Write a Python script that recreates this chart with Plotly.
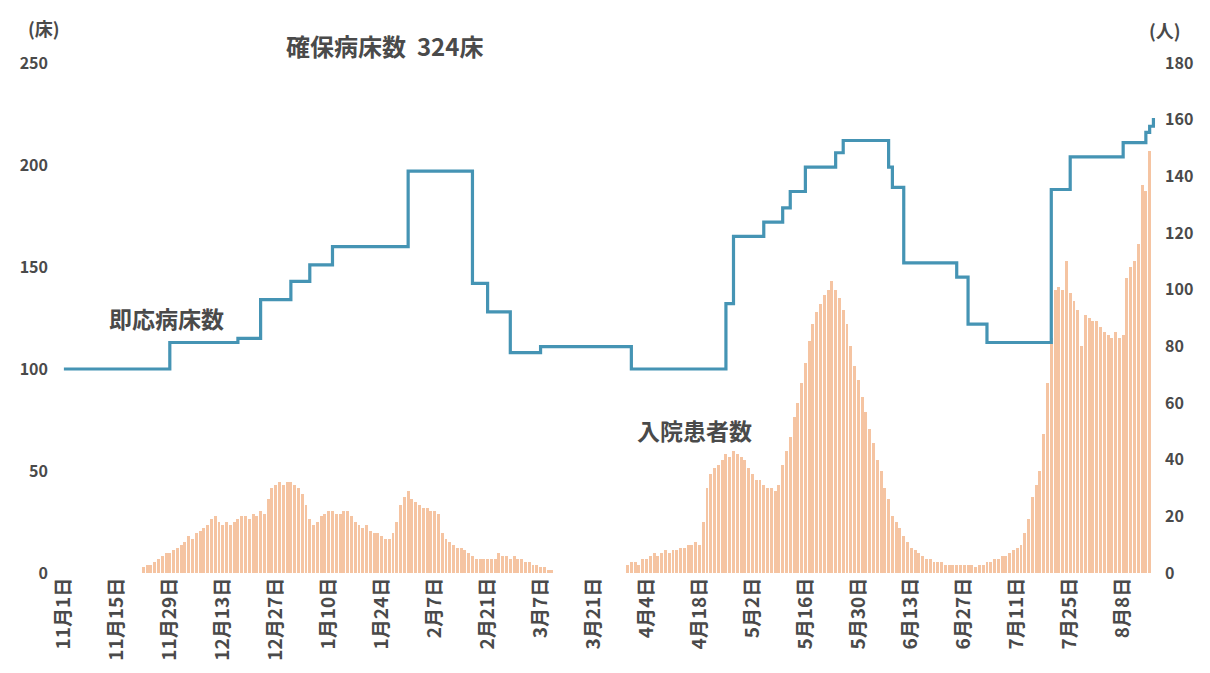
import pandas as pd
import plotly.graph_objects as go

# ---- 即応病床数 (left axis, 床): change points of the step line ----
bed_dates = ["2020-11-01", "2020-11-29", "2020-12-17", "2020-12-23", "2020-12-31",
             "2021-01-05", "2021-01-11", "2021-01-31", "2021-02-17", "2021-02-21",
             "2021-02-27", "2021-03-07", "2021-03-31", "2021-04-25", "2021-04-27",
             "2021-05-05", "2021-05-10", "2021-05-12", "2021-05-16", "2021-05-24",
             "2021-05-26", "2021-06-07", "2021-06-08", "2021-06-11", "2021-06-25",
             "2021-06-28", "2021-07-03", "2021-07-20", "2021-07-25", "2021-08-08",
             "2021-08-14", "2021-08-15", "2021-08-16"]
bed_values = [100, 113, 115, 134, 143,
              151, 160, 197, 142, 128,
              108, 111, 100, 132, 165,
              172, 179, 187, 199, 206,
              212, 199, 189, 152, 145,
              122, 113, 188, 204, 211,
              216, 219, 223]

# ---- 入院患者数 (right axis, 人): daily values from 2020-11-22 ----
patient_start = "2020-11-22"
patient_values = [
    2, 3, 3, 4, 5, 6, 7, 7, 8,
    9, 10, 11, 13, 12, 14, 15, 16, 17, 19,
    20, 18, 17, 18, 17, 18, 19, 20, 20, 19,
    21, 20, 22, 21, 26, 30, 31, 32, 31, 32,
    32, 31, 30, 28, 24, 19, 17, 18, 20, 21,
    22, 22, 21, 21, 22, 22, 20, 18, 17, 16,
    17, 15, 14, 14, 13, 12, 12, 14, 18, 24,
    27, 29, 26, 25, 24, 23, 23, 22, 22, 21,
    14, 12, 11, 10, 9, 9, 8, 7, 6, 5,
    5, 5, 5, 5, 5, 7, 6, 6, 5, 6,
    5, 5, 4, 4, 3, 3, 2, 2, 1, 1,
    0, 0, 0, 0, 0, 0, 0, 0, 0, 0,
    0, 0, 0, 0, 0, 0, 0, 0, 0,
    3, 4, 4, 3, 5, 5, 6, 7, 6, 7, 8,
    7, 8, 8, 9, 9, 10, 10, 11, 10, 18,
    30, 35, 37, 38, 40, 42, 41, 43, 42, 41,
    40, 37, 35, 33, 33, 31, 30, 30, 29, 31,
    38, 43, 48, 55, 60, 67, 74, 82, 88, 92,
    95, 98, 100, 103, 100, 97, 93, 88, 80, 73,
    68, 62, 57, 51, 46, 40, 36, 30, 26, 20,
    18, 16, 13, 11, 9, 8, 7, 6, 5, 5,
    4, 4, 4, 3, 3, 3, 3, 3, 3, 3,
    3, 2, 3, 3, 4, 4, 5, 5, 6, 6,
    7, 8, 9, 10, 14, 19, 27, 31, 36, 49,
    67, 83, 100, 101, 100, 110, 99, 96, 93, 80,
    91, 90, 89, 89, 87, 85, 84, 83, 85, 83,
    84, 104, 108, 110, 116, 137, 135, 149,
]

# ---- axis ticks ----
tick_dates = pd.date_range("2020-11-01", "2021-08-08", freq="14D")
tick_text = [f"{d.month}月{d.day}日" for d in tick_dates]
left_ticks = [0, 50, 100, 150, 200, 250]
right_ticks = [0, 20, 40, 60, 80, 100, 120, 140, 160, 180]

patient_dates = pd.date_range(patient_start, periods=len(patient_values), freq="D")

FONT = "Noto Sans CJK JP"
TXT = "#4a4a4a"

fig = go.Figure()
fig.add_trace(go.Bar(
    x=patient_dates, y=patient_values, yaxis="y",
    marker=dict(color="#f5c4a2", line=dict(width=0)),
    width=0.78 * 86400000, name="入院患者数",
))
fig.add_trace(go.Scatter(
    x=pd.to_datetime(bed_dates), y=bed_values, yaxis="y2",
    mode="lines", line=dict(color="#4594b4", width=3.2, shape="hv"),
    name="即応病床数",
))

fig.update_layout(
    width=1210, height=673,
    margin=dict(l=49, r=60, t=55, b=108),
    paper_bgcolor="white", plot_bgcolor="white",
    showlegend=False,
    font=dict(family=FONT, color=TXT),
    xaxis=dict(
        type="date",
        range=["2020-10-30 17:00", "2021-08-17 05:00"],
        tickvals=tick_dates, ticktext=tick_text, tickangle=-90,
        tickfont=dict(family=FONT, size=19, color=TXT, weight="bold"),
        showgrid=False, zeroline=False, showline=False, ticks="",
    ),
    yaxis=dict(
        side="right", range=[0, 180], tickvals=right_ticks,
        tickfont=dict(family=FONT, size=16, color=TXT, weight="bold"),
        showgrid=False, zeroline=False, showline=False, ticks="",
        ticklabelstandoff=6,
    ),
    yaxis2=dict(
        side="left", overlaying="y", range=[0, 250], tickvals=left_ticks,
        tickfont=dict(family=FONT, size=16, color=TXT, weight="bold"),
        showgrid=False, zeroline=False, showline=False, ticks="",
        ticklabelstandoff=10,
    ),
    bargap=0,
)

def ann(text, x, y, size, xanchor="center"):
    fig.add_annotation(text=text, x=x, y=y, xref="paper", yref="paper",
                       showarrow=False, xanchor=xanchor, yanchor="middle",
                       font=dict(family=FONT, size=size, color=TXT, weight="bold"))

ann("(床)", -0.014, 1.069, 18)
ann("(人)", 1.006, 1.065, 18)
ann("確保病床数  324床", 0.296, 1.035, 24)
ann("即応病床数", 0.098, 0.50, 23)
ann("入院患者数", 0.578, 0.28, 23)

fig.write_html("out.html")
